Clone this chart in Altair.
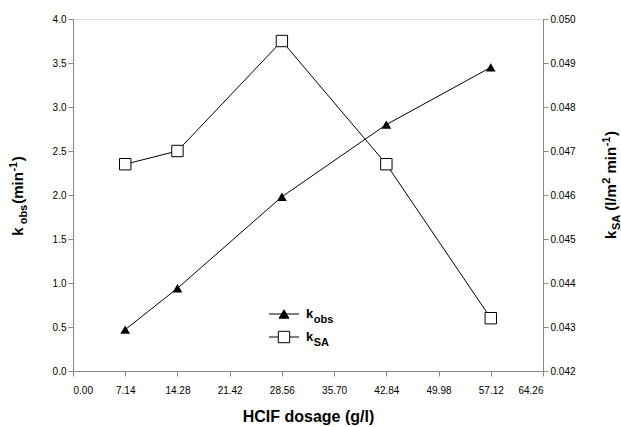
import altair as alt
import pandas as pd

# ---- data ----
dosage = [7.14, 14.28, 28.56, 42.84, 57.12]
k_obs = [0.47, 0.94, 1.98, 2.80, 3.45]
k_sa = [0.0467, 0.0470, 0.0495, 0.0467, 0.0432]
x_ticks = [0.00, 7.14, 14.28, 21.42, 28.56, 35.70, 42.84, 49.98, 57.12, 64.26]
left_ticks = [0.0, 0.5, 1.0, 1.5, 2.0, 2.5, 3.0, 3.5, 4.0]
right_ticks = [0.042, 0.043, 0.044, 0.045, 0.046, 0.047, 0.048, 0.049, 0.050]

W, H = 470, 352
FONT = "Liberation Sans"
AX = "#444444"

df = pd.DataFrame({"dosage": dosage, "kobs": k_obs, "ksa": k_sa})

x_enc = alt.X(
    "dosage:Q",
    scale=alt.Scale(domain=[0, 64.26], nice=False, zero=False),
    axis=alt.Axis(values=x_ticks, format=".2f", title="HCIF dosage (g/l)",
                  titlePadding=13, titleFontSize=16, labelPadding=9, grid=False),
)
y_left = alt.Y(
    "kobs:Q",
    scale=alt.Scale(domain=[0, 4], nice=False),
    axis=alt.Axis(values=left_ticks, format=".1f", title=None, orient="left", grid=False),
)
y_right = alt.Y(
    "ksa:Q",
    scale=alt.Scale(domain=[0.042, 0.050], nice=False, zero=False),
    axis=alt.Axis(values=right_ticks, format=".3f", title=None, orient="right", grid=False),
)

base = alt.Chart(df)
obs_layer = alt.layer(
    base.mark_line(color="black", strokeWidth=1).encode(x=x_enc, y=y_left),
    base.mark_point(shape="triangle-up", filled=True, color="black", size=95, opacity=1).encode(x=x_enc, y=y_left),
)
sa_layer = alt.layer(
    base.mark_line(color="black", strokeWidth=1).encode(x=x_enc, y=y_right),
    base.mark_point(shape="square", filled=True, fill="white", stroke="black", strokeWidth=1,
                    size=130, opacity=1).encode(x=x_enc, y=y_right),
)

# ---- rich-text helpers (sub/superscripts) ----
BOLD_W = {"k": 556, "o": 611, "b": 611, "s": 556, "(": 333, "m": 889, "i": 278, "n": 611,
          ")": 333, "-": 333, "1": 556, "S": 667, "A": 722, " ": 278, "l": 278, "/": 278, "2": 556}


def tlen(s, size):
    return sum(BOLD_W.get(c, 556) for c in s) * size / 1000.0


one = pd.DataFrame({"t": [""]})


def piece(text, x, y, size, angle=None):
    kw = dict(align="left", baseline="alphabetic", font=FONT, fontWeight="bold",
              fontSize=size, color="black", text=text)
    if angle is not None:
        kw["angle"] = angle
    return alt.Chart(one).mark_text(**kw).encode(x=alt.value(x), y=alt.value(y))


def vertical_title(parts, base_x, center_y, main=15, sub=11):
    # parts: (text, kind, gap_after) with kind in main/sub/sup; text reads bottom-to-top
    sizes = {"main": main, "sub": sub, "sup": sub}
    shift = {"main": 0, "sub": 4, "sup": -6}
    total = sum(tlen(t, sizes[k]) + g for t, k, g in parts)
    y = center_y + total / 2.0
    out = []
    for t, k, g in parts:
        out.append(piece(t, base_x + shift[k], y, sizes[k], angle=270))
        y -= tlen(t, sizes[k]) + g
    return out


def horizontal_label(parts, x, base_y, main=13, sub=11):
    sizes = {"main": main, "sub": sub}
    shift = {"main": 0, "sub": 5}
    out = []
    for t, k in parts:
        out.append(piece(t, x, base_y + shift[k], sizes[k]))
        x += tlen(t, sizes[k]) + 0.5
    return out


texts = []
# left axis title: k_obs (min^-1)
texts += vertical_title([("k", "main", 3), ("obs", "sub", 1), ("(min", "main", 0.5), ("-1", "sup", 0.5),
                         (")", "main", 0)],
                        base_x=-50, center_y=177)
# right axis title: k_SA (l/m^2 min^-1)
texts += vertical_title([("k", "main", 0.5), ("SA", "sub", 4), ("(l/m", "main", 0.5), ("2", "sup", 4),
                         ("min", "main", 0.5), ("-1", "sup", 0.5), (")", "main", 0)],
                        base_x=W + 73, center_y=166)

# legend
legend = []
for ly, shape, fill in [(295, "triangle-up", "black"), (318, "square", "white")]:
    legend.append(alt.Chart(one).mark_rule(color="black", strokeWidth=1).encode(
        x=alt.value(196), x2=alt.value(226), y=alt.value(ly)))
    legend.append(alt.Chart(one).mark_point(shape=shape, filled=True, fill=fill, stroke="black",
                                            strokeWidth=1, size=95 if shape != "square" else 130,
                                            opacity=1).encode(x=alt.value(211), y=alt.value(ly)))
legend += horizontal_label([("k", "main"), ("obs", "sub")], 233, 299)
legend += horizontal_label([("k", "main"), ("SA", "sub")], 233, 322)

chart = alt.layer(obs_layer, sa_layer, *texts, *legend).resolve_scale(y="independent").properties(
    width=W, height=H,
    autosize=alt.AutoSizeParams(type="none"),
    padding={"left": 73, "top": 19, "right": 78, "bottom": 56},
).configure_view(stroke=AX, strokeWidth=1).configure_axis(
    domainColor=AX, tickColor=AX, tickSize=5, labelColor="#2a2a2a",
    labelFont=FONT, labelFontSize=13, labelPadding=4,
    titleFont=FONT, titleFontSize=16, titleFontWeight="bold", titleColor="black",
).configure(background="white")

chart.save("out.html", embed_options={"renderer": "svg", "actions": False})
